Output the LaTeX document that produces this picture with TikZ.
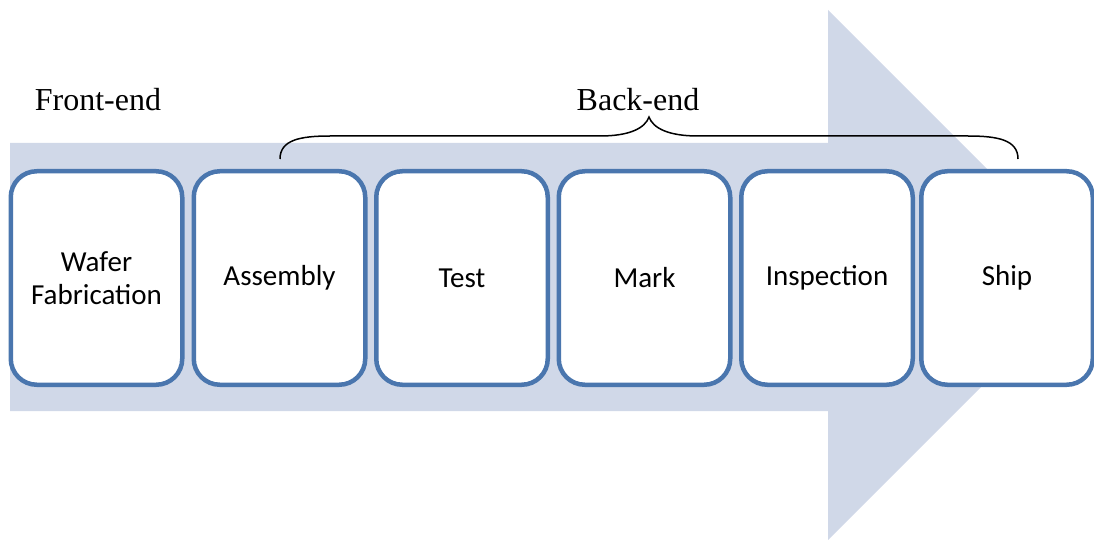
\documentclass[tikz,border=0pt]{standalone}
\usepackage{fontspec}
\setmainfont{Liberation Serif}
\newfontfamily\boxfont{Carlito}
\definecolor{arrowfill}{HTML}{D0D8E8}
\definecolor{boxline}{HTML}{4A76AE}
\begin{document}
\begin{tikzpicture}[x=1pt,y=-1pt,
  stagebox/.style={draw=boxline, line width=4.5pt, fill=white, rounded corners=26pt,
    minimum width=171.5pt, minimum height=213.5pt, inner sep=0pt, align=center,
    font=\boxfont\fontsize{29}{33}\selectfont},
  phase/.style={font=\fontsize{32}{36}\selectfont, inner sep=0pt, anchor=base},
  bracepath/.style={draw=black, line width=1.5pt}]
\useasboundingbox (0,0) rectangle (1094,540);
% big arrow
\fill[arrowfill] (10,143) -- (828,143) -- (828,10) -- (1093,275) -- (828,540) -- (828,411) -- (10,411) -- cycle;
% stages
\node[stagebox] (wafer) at (96.5,278) {Wafer\\Fabrication};
\node[stagebox] (assembly) at (279.5,278) {Assembly};
\node[stagebox] (test) at (462,278) {Test};
\node[stagebox] (mark) at (644.5,278) {Mark};
\node[stagebox] (inspection) at (827,278) {Inspection};
\node[stagebox] (ship) at (1007,278) {Ship};
% labels
\node[phase] (front) at (98,111) {Front-end};
\node[phase] (back) at (638,111) {Back-end};
% brace
\coordinate (bl) at (280,159);
\coordinate (bm) at (649,117);
\coordinate (br) at (1018,159);
\draw[bracepath] (bl) .. controls (280,140) and (300,136) .. (330,136) -- (600,136)
  .. controls (630,136) and (645,128) .. (bm)
  .. controls (653,128) and (668,136) .. (698,136) -- (968,136)
  .. controls (998,136) and (1018,140) .. (br);
\end{tikzpicture}
\end{document}
